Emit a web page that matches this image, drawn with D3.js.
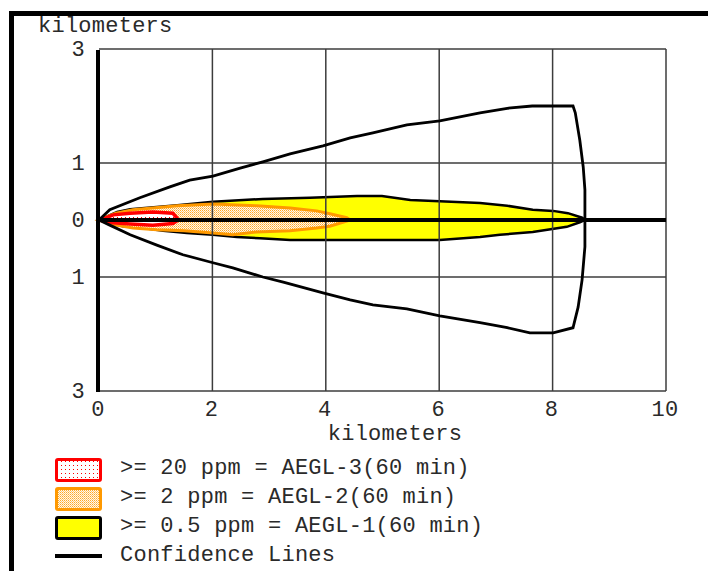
<!DOCTYPE html>
<html>
<head>
<meta charset="utf-8">
<script src="https://cdn.jsdelivr.net/npm/d3@7"></script>
<style>
  body { margin: 0; background: #fff; }
  svg text { font-family: "Liberation Mono", "Courier New", monospace; font-size: 22px; letter-spacing: 0.25px; fill: #2a2a2a; }
</style>
</head>
<body>
<svg id="chart" width="708" height="571"></svg>
<script>
// ---- data (kilometers) ----
var xTicks = [0, 2, 4, 6, 8, 10];
var yTicks = [3, 1, 0, -1, -3];
var yTickLabels = ["3", "1", "0", "1", "3"];
var xGrid = [2, 4, 6, 8, 10];
var yGrid = [3, 1, -1, -3];

// confidence lines: upper edge, far-end arc, lower edge
var confUpper = [[0,0],[0.19,0.18],[0.72,0.39],[1.25,0.58],[1.6,0.7],[2.01,0.77],[2.49,0.91],[2.89,1.02],[3.37,1.16],[3.95,1.3],[4.43,1.44],[4.83,1.53],[5.43,1.67],[6.01,1.74],[6.72,1.88],[7.2,1.96],[7.64,2.0],[8.36,2.0]];
var confArc = [[8.36,2.0],[8.4,1.88],[8.48,1.4],[8.54,0.93],[8.57,0.53],[8.57,0],[8.57,-0.47],[8.52,-1.05],[8.45,-1.53],[8.36,-1.89]];
var confLower = [[8.36,-1.89],[8.01,-1.98],[7.6,-1.98],[7.2,-1.89],[6.72,-1.8],[6.01,-1.68],[5.43,-1.56],[4.83,-1.49],[4.43,-1.4],[3.95,-1.28],[3.25,-1.09],[2.89,-1.0],[2.36,-0.84],[2.01,-0.75],[1.48,-0.61],[1.02,-0.44],[0.55,-0.26],[0.19,-0.09],[0,0]];

// threat zones
var aegl1Upper = [[0,0],[0.32,0.14],[0.55,0.19],[1.38,0.26],[2.01,0.32],[2.89,0.37],[3.72,0.39],[4.55,0.42],[4.99,0.42],[5.49,0.35],[6.01,0.33],[6.72,0.3],[7.2,0.25],[7.65,0.18],[8.01,0.16],[8.27,0.12],[8.52,0.04],[8.57,0]];
var aegl1Lower = [[8.48,-0.04],[8.25,-0.12],[7.65,-0.21],[7.07,-0.26],[6.72,-0.3],[6.01,-0.35],[3.95,-0.35],[3.37,-0.35],[2.84,-0.32],[2.43,-0.3],[2.01,-0.26],[1.55,-0.23],[1.13,-0.19],[0.78,-0.14],[0.42,-0.11]];
var aegl2Upper = [[0,0],[0.3,0.12],[0.6,0.18],[1.38,0.25],[2.01,0.28],[2.78,0.25],[3.37,0.21],[3.84,0.16],[4.07,0.11],[4.37,0.04],[4.43,0]];
var aegl2Lower = [[4.3,-0.04],[4.07,-0.11],[3.84,-0.14],[3.37,-0.19],[2.78,-0.21],[2.36,-0.26],[2.01,-0.23],[1.5,-0.19],[1.02,-0.17],[0.6,-0.14],[0.3,-0.09]];
var aegl3Upper = [[0,0],[0.1,0.03],[0.25,0.09],[0.55,0.12],[0.95,0.14],[1.3,0.12],[1.37,0.04],[1.4,0]];
var aegl3Lower = [[1.3,-0.06],[0.95,-0.09],[0.55,-0.07],[0.25,-0.05]];

var legendLabels = [">= 20 ppm = AEGL-3(60 min)", ">= 2 ppm = AEGL-2(60 min)", ">= 0.5 ppm = AEGL-1(60 min)", "Confidence Lines"];
var axisTitle = "kilometers";

// ---- drawing ----
var svg = d3.select("#chart");

var x = d3.scaleLinear().domain([0, 10]).range([99, 666]);
var y = d3.scaleLinear().domain([-3, 3]).range([391, 49]);

var line = d3.line().x(function(d) { return x(d[0]); }).y(function(d) { return y(d[1]); });

// fill patterns
var defs = svg.append("defs");
var pOr = defs.append("pattern").attr("id", "dotOrange").attr("patternUnits", "userSpaceOnUse")
  .attr("width", 2).attr("height", 2);
pOr.append("rect").attr("width", 2).attr("height", 2).attr("fill", "#fff8ea");
pOr.append("rect").attr("width", 1).attr("height", 1).attr("fill", "#ffa726");
pOr.append("rect").attr("x", 1).attr("y", 1).attr("width", 1).attr("height", 1).attr("fill", "#ffc878");
var pRed = defs.append("pattern").attr("id", "dotRed").attr("patternUnits", "userSpaceOnUse")
  .attr("width", 4).attr("height", 4);
pRed.append("rect").attr("width", 4).attr("height", 4).attr("fill", "#fff");
pRed.append("rect").attr("x", 1).attr("y", 1).attr("width", 1).attr("height", 1).attr("fill", "#ff0000");

// outer frame
svg.append("rect").attr("x", 9).attr("y", 11).attr("width", 699).attr("height", 5).attr("fill", "#000");
svg.append("rect").attr("x", 9).attr("y", 11).attr("width", 5).attr("height", 560).attr("fill", "#000");

// threat zones
svg.append("path").attr("d", line(aegl1Upper.concat(aegl1Lower)) + "Z")
  .attr("fill", "#ffff00").attr("stroke", "#000").attr("stroke-width", 2.5);
svg.append("path").attr("d", line(aegl2Upper.concat(aegl2Lower)) + "Z")
  .attr("fill", "url(#dotOrange)").attr("stroke", "#ff9900").attr("stroke-width", 3);
svg.append("path").attr("d", line(aegl3Upper.concat(aegl3Lower)) + "Z")
  .attr("fill", "url(#dotRed)").attr("stroke", "#ff0000").attr("stroke-width", 3.5);

// grid
var grid = svg.append("g").attr("stroke", "#3c3c3c").attr("stroke-width", 1.5);
grid.selectAll("line.v").data(xGrid).enter().append("line").attr("class", "v")
  .attr("x1", function(d) { return x(d); }).attr("x2", function(d) { return x(d); })
  .attr("y1", y(3)).attr("y2", y(-3));
grid.selectAll("line.h").data(yGrid).enter().append("line").attr("class", "h")
  .attr("x1", x(0)).attr("x2", x(10))
  .attr("y1", function(d) { return y(d); }).attr("y2", function(d) { return y(d); });

// centerline
svg.append("line").attr("x1", x(0)).attr("x2", x(10)).attr("y1", y(0)).attr("y2", y(0))
  .attr("stroke", "#000").attr("stroke-width", 4);

// confidence lines
svg.append("path").attr("d", line(confUpper.concat(confArc, confLower)))
  .attr("fill", "none").attr("stroke", "#000").attr("stroke-width", 2.8).attr("stroke-linejoin", "miter");

// left axis
svg.append("line").attr("x1", x(0) - 1).attr("x2", x(0) - 1).attr("y1", y(3) + 1).attr("y2", y(-3) + 1)
  .attr("stroke", "#000").attr("stroke-width", 4);

// tick labels
svg.selectAll("text.yt").data(yTicks).enter().append("text").attr("class", "yt")
  .attr("x", 85).attr("y", function(d) { return y(d) + 7; })
  .attr("text-anchor", "end")
  .text(function(d, i) { return yTickLabels[i]; });
svg.selectAll("text.xt").data(xTicks).enter().append("text").attr("class", "xt")
  .attr("x", function(d) { return x(d) - 1; }).attr("y", 416)
  .attr("text-anchor", "middle")
  .text(function(d) { return d; });

svg.append("text").attr("x", 38).attr("y", 32).text(axisTitle);
svg.append("text").attr("x", 395).attr("y", 440).attr("text-anchor", "middle").text(axisTitle);

// legend
var lg = svg.append("g");
var swatches = [
  { fill: "url(#dotRed)", stroke: "#ff0000" },
  { fill: "url(#dotOrange)", stroke: "#ff9900" },
  { fill: "#ffff00", stroke: "#000" }
];
lg.selectAll("rect").data(swatches).enter().append("rect")
  .attr("x", 56.5).attr("y", function(d, i) { return 459.5 + i * 29; })
  .attr("width", 44).attr("height", 21).attr("rx", 1.5)
  .attr("fill", function(d) { return d.fill; })
  .attr("stroke", function(d) { return d.stroke; }).attr("stroke-width", 3);
lg.append("line").attr("x1", 55).attr("x2", 102).attr("y1", 556).attr("y2", 556)
  .attr("stroke", "#000").attr("stroke-width", 4);
lg.selectAll("text").data(legendLabels).enter().append("text")
  .attr("x", 120).attr("y", function(d, i) { return 474 + i * 29; })
  .text(function(d) { return d; });
</script>
</body>
</html>
